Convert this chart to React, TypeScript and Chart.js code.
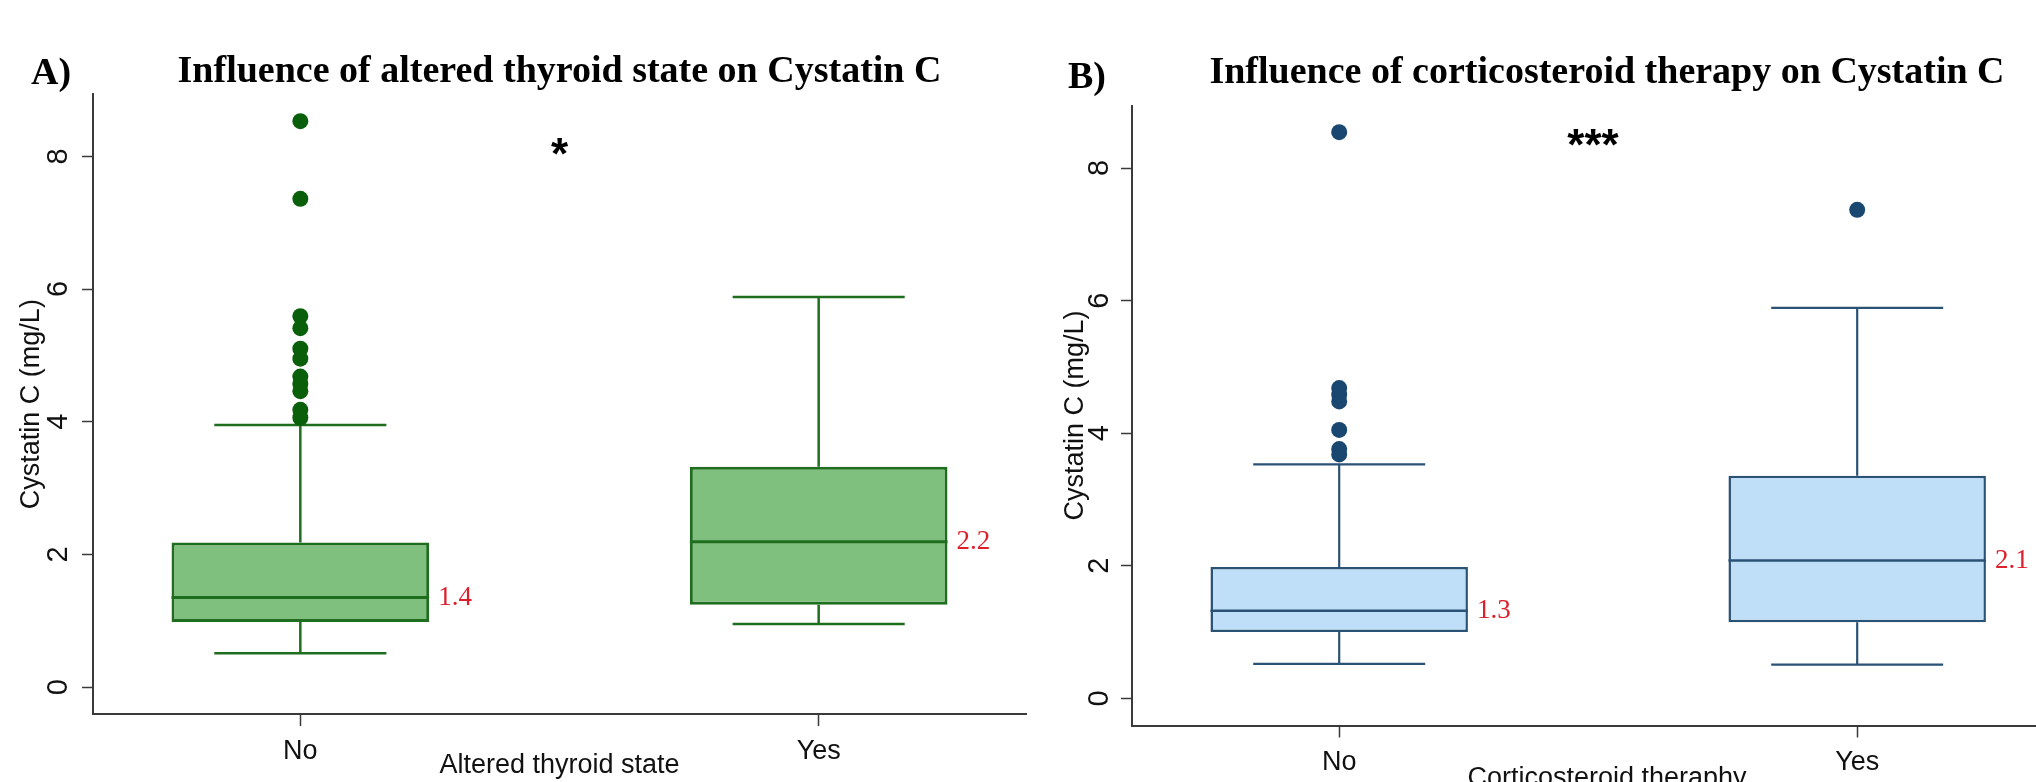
import React, { useEffect, useRef } from 'react';
import { Chart, registerables } from 'chart.js';

Chart.register(...registerables);

// ---------- data ----------
const categories = ['No', 'Yes'];
const categoryPositions = [1, 2];
const yTickValues = [0, 2, 4, 6, 8];

// Panel A: altered thyroid state
const thyroidLowerWhisker = [0.51, 0.95];
const thyroidQ1 = [0.98, 1.24];
const thyroidMedian = [1.35, 2.19];
const thyroidQ3 = [2.18, 3.32];
const thyroidUpperWhisker = [3.95, 5.88];
const thyroidOutliersNo = [8.53, 7.36, 5.59, 5.41, 5.1, 4.95, 4.68, 4.57, 4.46, 4.18, 4.06];
const thyroidOutliersYes: number[] = [];
const thyroidMedianLabels = ['1.4', '2.2'];

// Panel B: corticosteroid therapy
const steroidLowerWhisker = [0.52, 0.51];
const steroidQ1 = [1.0, 1.15];
const steroidMedian = [1.32, 2.08];
const steroidQ3 = [1.98, 3.36];
const steroidUpperWhisker = [3.53, 5.89];
const steroidOutliersNo = [8.54, 4.68, 4.58, 4.48, 4.05, 3.76, 3.68];
const steroidOutliersYes = [7.37];
const steroidMedianLabels = ['1.3', '2.1'];

// ---------- styles ----------
const SANS = '"Liberation Sans", Arial, Helvetica, sans-serif';
const SERIF = '"Liberation Serif", "Times New Roman", Times, serif';
const AXIS = '#3a3a3a';
const TEXT = '#111111';
const BOX_WIDTH = 0.497; // in category units
const CAP_HALF = 0.166; // in category units

type Layout = {
  left: number; width: number; height: number;
  yAxisWidth: number; xAxisHeight: number; padRight: number;
  titlePadTop: number; titlePadBottom: number;
  yTickPad: number; yTitlePad: number; xTickPad: number; xTitlePadBottom: number;
  xMin: number; xMax: number; yMin: number; yMax: number;
  letterX: number; letterY: number;
};

type Panel = {
  letter: string; title: string; xTitle: string; stars: string; starAt: [number, number];
  lower: number[]; q1: number[]; median: number[]; q3: number[]; upper: number[];
  outliers: number[][]; medianLabels: string[];
  fill: string; line: string; dot: string; boxLine: number; whiskerLine: number;
  layout: Layout;
};

const panels: Panel[] = [
  {
    letter: 'A)',
    title: 'Influence of altered thyroid state on Cystatin C',
    xTitle: 'Altered thyroid state',
    stars: '*',
    starAt: [1.5, 8.19],
    lower: thyroidLowerWhisker, q1: thyroidQ1, median: thyroidMedian, q3: thyroidQ3, upper: thyroidUpperWhisker,
    outliers: [thyroidOutliersNo, thyroidOutliersYes],
    medianLabels: thyroidMedianLabels,
    fill: '#80c07e', line: '#1f6e1f', dot: '#0a600a', boxLine: 3, whiskerLine: 2.5,
    layout: {
      left: 0, width: 1040, height: 782,
      yAxisWidth: 93, xAxisHeight: 68, padRight: 14,
      titlePadTop: 49.3, titlePadBottom: -0.6,
      yTickPad: 14.5, yTitlePad: 15.3, xTickPad: 9.1, xTitlePadBottom: 0.5,
      xMin: 0.6, xMax: 2.4, yMin: -0.405, yMax: 8.935,
      letterX: 31, letterY: 84,
    },
  },
  {
    letter: 'B)',
    title: 'Influence of corticosteroid therapy on Cystatin C',
    xTitle: 'Corticosteroid theraphy',
    stars: '***',
    starAt: [1.49, 8.5],
    lower: steroidLowerWhisker, q1: steroidQ1, median: steroidMedian, q3: steroidQ3, upper: steroidUpperWhisker,
    outliers: [steroidOutliersNo, steroidOutliersYes],
    medianLabels: steroidMedianLabels,
    fill: '#bfdff9', line: '#2a5275', dot: '#1a476f', boxLine: 2.5, whiskerLine: 2.2,
    layout: {
      left: 1040, width: 1120, height: 800,
      yAxisWidth: 92, xAxisHeight: 74.5, padRight: 78,
      titlePadTop: 50.6, titlePadBottom: 9.3,
      yTickPad: 12.5, yTitlePad: 19.3, xTickPad: 8.9, xTitlePadBottom: 4.9,
      xMin: 0.6, xMax: 2.434, yMin: -0.409, yMax: 8.943,
      letterX: 28, letterY: 88,
    },
  },
];

// ---------- annotation plugin (panel letter, significance stars, median labels) ----------
const panelTextPlugin = {
  id: 'panelText',
  afterDraw(chart: any, _args: any, opts: any) {
    const { ctx } = chart;
    const xs = chart.scales.x;
    const ys = chart.scales.y;
    ctx.save();
    ctx.fillStyle = '#000';
    ctx.textAlign = 'left';
    ctx.textBaseline = 'alphabetic';
    ctx.font = `bold 38px ${SERIF}`;
    ctx.fillText(opts.letter, opts.letterX, opts.letterY);

    const starSize = 44;
    ctx.font = `bold ${starSize}px ${SANS}`;
    ctx.textAlign = 'center';
    ctx.fillText(opts.stars, xs.getPixelForValue(opts.starAt[0]), ys.getPixelForValue(opts.starAt[1]) + 0.57 * starSize);

    ctx.font = `27px ${SERIF}`;
    ctx.fillStyle = '#dc1f2a';
    ctx.textAlign = 'left';
    ctx.textBaseline = 'middle';
    categoryPositions.forEach((c, i) => {
      const px = xs.getPixelForValue(c + BOX_WIDTH / 2) + 9;
      const py = ys.getPixelForValue(opts.median[i]);
      ctx.fillText(opts.medianLabels[i], px, py);
    });
    ctx.restore();
  },
};

function buildConfig(p: Panel): any {
  const L = p.layout;
  const hw = BOX_WIDTH / 2;
  const whiskers: any[] = [];
  const medians: any[] = [];
  categoryPositions.forEach((c, i) => {
    whiskers.push(
      { x: c, y: p.q3[i] }, { x: c, y: p.upper[i] }, { x: c, y: null },
      { x: c - CAP_HALF, y: p.upper[i] }, { x: c + CAP_HALF, y: p.upper[i] }, { x: c, y: null },
      { x: c, y: p.q1[i] }, { x: c, y: p.lower[i] }, { x: c, y: null },
      { x: c - CAP_HALF, y: p.lower[i] }, { x: c + CAP_HALF, y: p.lower[i] }, { x: c, y: null },
    );
    medians.push({ x: c - hw, y: p.median[i] }, { x: c + hw, y: p.median[i] }, { x: c, y: null });
  });
  const dots: any[] = [];
  categoryPositions.forEach((c, i) => p.outliers[i].forEach(v => dots.push({ x: c, y: v })));

  const labelFont = { family: SANS, size: 27 };
  const yTickFont = { family: SANS, size: 29 };

  return {
    type: 'scatter',
    data: {
      datasets: [
        {
          type: 'scatter', label: 'outliers', data: dots, order: 0,
          pointRadius: 8, pointBackgroundColor: p.dot, pointBorderWidth: 0, pointBorderColor: p.dot,
        },
        {
          type: 'line', label: 'median', data: medians, order: 1,
          borderColor: p.line, borderWidth: p.boxLine, pointRadius: 0, fill: false, spanGaps: false,
        },
        {
          type: 'line', label: 'whiskers', data: whiskers, order: 2,
          borderColor: p.line, borderWidth: p.whiskerLine, pointRadius: 0, fill: false, spanGaps: false,
        },
        {
          type: 'bar', label: 'IQR', order: 3,
          data: categoryPositions.map((c, i) => ({ x: c, y: [p.q1[i], p.q3[i]] })),
          backgroundColor: p.fill, borderColor: p.line, borderWidth: p.boxLine, borderSkipped: false,
          barPercentage: BOX_WIDTH, categoryPercentage: 1,
        },
      ],
    },
    options: {
      responsive: false,
      animation: false,
      devicePixelRatio: 1,
      events: [],
      layout: { padding: { left: 0, top: 0, right: L.padRight, bottom: 0 } },
      plugins: {
        legend: { display: false },
        tooltip: { enabled: false },
        title: {
          display: true, text: p.title, fullSize: false, color: '#000',
          font: { family: SERIF, size: 38, weight: 'bold', lineHeight: 1.2 },
          padding: { top: L.titlePadTop, bottom: L.titlePadBottom },
        },
        panelText: {
          letter: p.letter, letterX: L.letterX, letterY: L.letterY,
          stars: p.stars, starAt: p.starAt,
          median: p.median, medianLabels: p.medianLabels,
        },
      },
      scales: {
        x: {
          type: 'linear', min: L.xMin, max: L.xMax, offset: false,
          grid: { display: true, drawOnChartArea: false, drawTicks: true, tickLength: 12, tickColor: AXIS, tickWidth: 1.5, offset: false },
          border: { display: true, color: AXIS, width: 2 },
          afterBuildTicks: (scale: any) => { scale.ticks = categoryPositions.map(v => ({ value: v })); },
          ticks: {
            font: labelFont, color: TEXT, padding: L.xTickPad, maxRotation: 0, minRotation: 0, autoSkip: false,
            callback: (value: any) => { const i = categoryPositions.indexOf(Number(value)); return i >= 0 ? categories[i] : ''; },
          },
          title: { display: true, text: p.xTitle, color: TEXT, font: labelFont, padding: { top: 0, bottom: L.xTitlePadBottom } },
          afterFit: (scale: any) => { scale.height = L.xAxisHeight; },
        },
        y: {
          type: 'linear', min: L.yMin, max: L.yMax, beginAtZero: false,
          grid: { display: true, drawOnChartArea: false, drawTicks: true, tickLength: 11, tickColor: AXIS, tickWidth: 1.5 },
          border: { display: true, color: AXIS, width: 2 },
          afterBuildTicks: (scale: any) => { scale.ticks = yTickValues.map(v => ({ value: v })); },
          ticks: {
            font: yTickFont, color: TEXT, padding: L.yTickPad, minRotation: 90, maxRotation: 90,
            crossAlign: 'center', autoSkip: false,
            callback: (value: any) => String(value),
          },
          title: { display: true, text: 'Cystatin C (mg/L)', color: TEXT, font: labelFont, padding: { top: L.yTitlePad, bottom: 0 } },
          afterFit: (scale: any) => { scale.width = L.yAxisWidth; },
        },
      },
    },
    plugins: [panelTextPlugin],
  };
}

function PanelChart({ panel }: { panel: Panel }) {
  const ref = useRef<HTMLCanvasElement | null>(null);
  useEffect(() => {
    if (!ref.current) return;
    const chart = new Chart(ref.current, buildConfig(panel));
    return () => chart.destroy();
  }, [panel]);
  const L = panel.layout;
  return (
    <canvas
      ref={ref}
      width={L.width}
      height={L.height}
      style={{ position: 'absolute', left: L.left, top: 0, width: L.width, height: L.height }}
    />
  );
}

export default function App() {
  return (
    <div
      style={{
        position: 'fixed', left: 0, top: 0, width: 2036, height: 782,
        overflow: 'hidden', background: '#ffffff',
      }}
    >
      {panels.map(p => (
        <PanelChart key={p.letter} panel={p} />
      ))}
    </div>
  );
}
